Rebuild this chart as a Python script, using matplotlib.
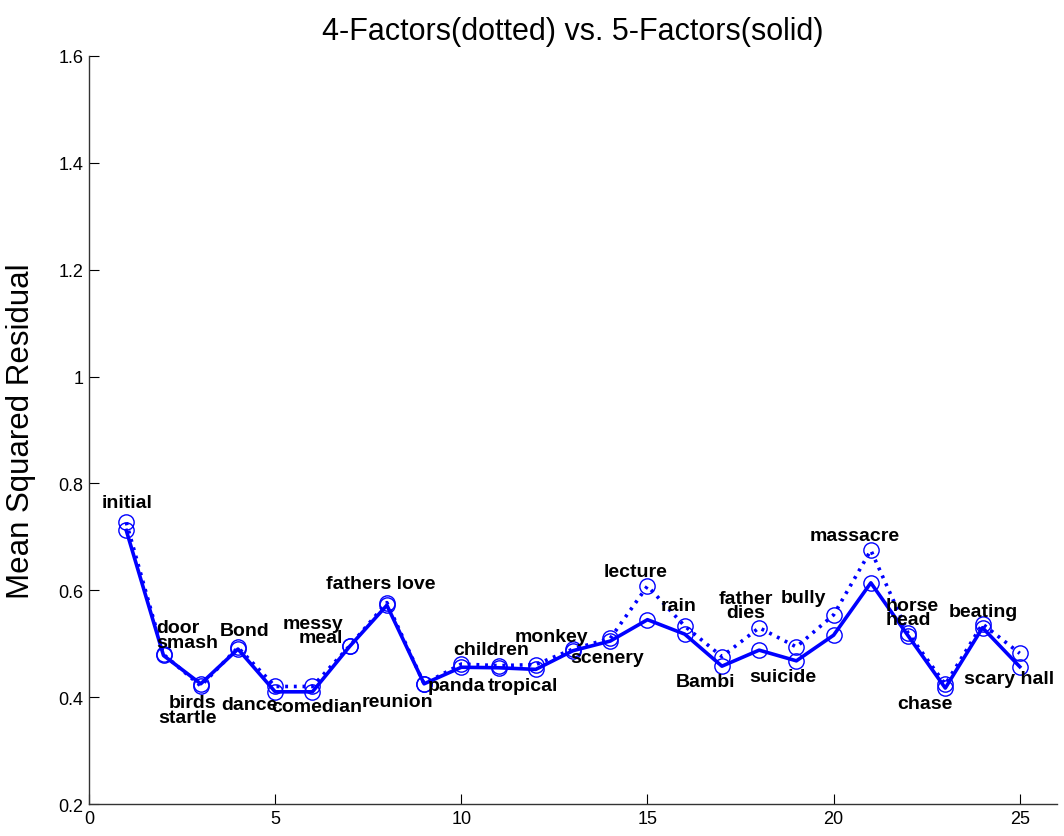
import matplotlib
matplotlib.use("Agg")
import matplotlib.pyplot as plt
import numpy as np

# Scene index (1..25)
scenes = np.arange(1, 26)

# Mean squared residual per scene
five_factor = [0.712, 0.478, 0.425, 0.490, 0.410, 0.410, 0.495, 0.572, 0.425, 0.456,
               0.455, 0.452, 0.487, 0.505, 0.545, 0.518, 0.458, 0.488, 0.468, 0.516,
               0.614, 0.515, 0.417, 0.530, 0.457]
four_factor = [0.727, 0.480, 0.421, 0.493, 0.420, 0.420, 0.496, 0.577, 0.425, 0.462,
               0.459, 0.461, 0.490, 0.510, 0.608, 0.533, 0.476, 0.530, 0.494, 0.554,
               0.675, 0.520, 0.424, 0.537, 0.482]

# Scene names and where each one is written
scene_labels = ["initial", "door\nsmash", "birds\nstartle", "Bond", "dance", "comedian",
                "messy\nmeal", "fathers love", "reunion", "panda", "children", "tropical",
                "monkey", "scenery", "lecture", "rain", "Bambi", "father\ndies", "suicide",
                "bully", "massacre", "horse\nhead", "chase", "beating", "scary hall"]
label_x = [1.02, 1.80, 3.42, 4.18, 4.32, 6.11, 6.82, 7.83, 8.28, 9.87, 10.81, 11.66,
           12.42, 13.91, 14.67, 15.84, 16.57, 17.64, 18.63, 19.20, 20.57, 21.39, 22.44,
           24.02, 24.72]
label_y = [0.765, 0.516, 0.376, 0.524, 0.387, 0.383, 0.525, 0.612, 0.391, 0.421,
           0.490, 0.421, 0.514, 0.475, 0.636, 0.571, 0.430, 0.571, 0.438, 0.586,
           0.702, 0.559, 0.389, 0.561, 0.434]
label_ha = ["center", "left", "right", "center", "center", "center", "right", "center",
            "center", "center", "center", "center", "center", "center", "center", "center",
            "center", "center", "center", "center", "center", "left", "center", "center",
            "center"]

plt.rcParams["font.family"] = ["Liberation Sans", "DejaVu Sans"]

fig = plt.figure(figsize=(10.64, 8.37), dpi=100)
ax = fig.add_axes([0.0837, 0.0382, 0.9097, 0.8937])

blue = "#0000ff"
ax.plot(scenes, four_factor, color=blue, lw=2.6, linestyle=(0, (0.8, 1.6)),
        marker="o", markersize=11, markerfacecolor="none", markeredgewidth=1.0,
        dash_capstyle="butt")
ax.plot(scenes, five_factor, color=blue, lw=2.6, linestyle="-",
        marker="o", markersize=11, markerfacecolor="none", markeredgewidth=1.0)

for name, x, y, ha in zip(scene_labels, label_x, label_y, label_ha):
    ax.text(x, y, name, ha=ha, va="center", fontsize=14, fontweight="bold",
            linespacing=0.8, color="black")

ax.set_xlim(0, 26)
ax.set_ylim(0.2, 1.6)
ax.set_xticks([0, 5, 10, 15, 20, 25])
ax.set_yticks([0.2, 0.4, 0.6, 0.8, 1.0, 1.2, 1.4, 1.6])
ax.set_yticklabels(["0.2", "0.4", "0.6", "0.8", "1", "1.2", "1.4", "1.6"])
ax.tick_params(direction="in", length=7, width=0.8, labelsize=13, pad=4)
ax.spines["top"].set_visible(False)
ax.spines["right"].set_visible(False)
for s in ("left", "bottom"):
    ax.spines[s].set_linewidth(1.0)
    ax.spines[s].set_color("#333333")

ax.set_ylabel("Mean Squared Residual", fontsize=22.5, labelpad=16)
ax.set_title("4-Factors(dotted) vs. 5-Factors(solid)", fontsize=22, pad=12)

fig.savefig("out.png", dpi=100)
